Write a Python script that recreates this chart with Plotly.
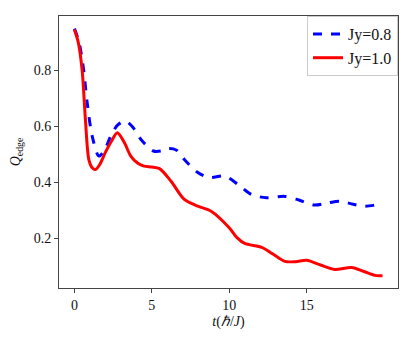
import plotly.graph_objects as go

# Jy = 0.8 (blue dashed)
t_08 = [0, 0.3, 0.6, 0.82, 1.15, 1.58, 1.95, 2.34, 2.8, 3.3, 3.8, 4.3, 5.1, 5.6, 6.1, 6.6, 7.1, 7.97, 8.72, 9.7,
        10.56, 11.43, 12.4, 13.6, 14.5, 15.5, 16.3, 17.1, 18.0, 18.7, 19.3, 19.9]
q_08 = [0.949, 0.90, 0.80, 0.686, 0.565, 0.494, 0.515, 0.565, 0.605, 0.619, 0.595, 0.553, 0.512, 0.512, 0.521, 0.515, 0.482, 0.435, 0.417, 0.423,
        0.393, 0.357, 0.345, 0.35, 0.337, 0.319, 0.326, 0.333, 0.322, 0.315, 0.318, 0.327]

# Jy = 1.0 (red solid)
t_10 = [0, 0.25, 0.5, 0.71, 0.93, 1.15, 1.36, 1.65, 2.0, 2.4, 2.77, 3.2, 3.64, 4.1, 4.5, 5.0, 5.5, 6.23, 7.1, 7.97, 8.83, 10.0,
        10.5, 11.0, 12.1, 12.8, 13.6, 14.3, 15.0, 15.9, 16.8, 17.9, 18.7, 19.4, 19.9]
q_10 = [0.946, 0.90, 0.80, 0.625, 0.482, 0.452, 0.446, 0.465, 0.507, 0.548, 0.577, 0.545, 0.494, 0.468, 0.458, 0.455, 0.449, 0.405, 0.339, 0.315, 0.297, 0.238,
        0.203, 0.182, 0.168, 0.145, 0.118, 0.117, 0.122, 0.105, 0.089, 0.096, 0.082, 0.068, 0.067]

x_ticks = [0, 5, 10, 15]
y_ticks = [0.2, 0.4, 0.6, 0.8]

serif = 'Liberation Serif, Times New Roman, serif'

fig = go.Figure()

fig.add_trace(go.Scatter(
    x=t_08, y=q_08, mode='lines', name='Jy=0.8',
    line=dict(color='#0000ff', width=3, dash='dash', shape='spline', smoothing=0.8)
))
fig.add_trace(go.Scatter(
    x=t_10, y=q_10, mode='lines', name='Jy=1.0',
    line=dict(color='#ff0000', width=3, shape='spline', smoothing=0.8)
))

# page body adds an 8px offset, so the figure is 8px smaller
fig.update_layout(
    width=407,
    height=334,
    plot_bgcolor='white',
    paper_bgcolor='white',
    margin=dict(l=51, r=17, t=8, b=54, autoexpand=False),
    font=dict(family=serif, size=14, color='#111'),
    legend=dict(
        x=1, y=1, xanchor='right', yanchor='top',
        bgcolor='white', bordercolor='#cccccc', borderwidth=1,
        font=dict(family=serif, size=16),
    ),
    xaxis=dict(
        range=[-0.995, 20.9],
        tickvals=x_ticks,
        automargin=False,
        showgrid=False, zeroline=False,
        showline=True, mirror=True, linecolor='#444', linewidth=1,
        ticks='outside', ticklen=4, tickcolor='#444',
        title=dict(text='<i>t</i>(<i>ℏ</i>/<i>J</i>)', font=dict(family=serif, size=14), standoff=4),
    ),
    yaxis=dict(
        range=[0.023, 0.994],
        tickvals=y_ticks,
        tickformat='.1f',
        automargin=False,
        showgrid=False, zeroline=False,
        showline=True, mirror=True, linecolor='#444', linewidth=1,
        ticks='outside', ticklen=4, tickcolor='#444',
        title=dict(text='<i>Q</i><sub>edge</sub>', font=dict(family=serif, size=14), standoff=10),
    ),
)

fig.write_html("out.html")
